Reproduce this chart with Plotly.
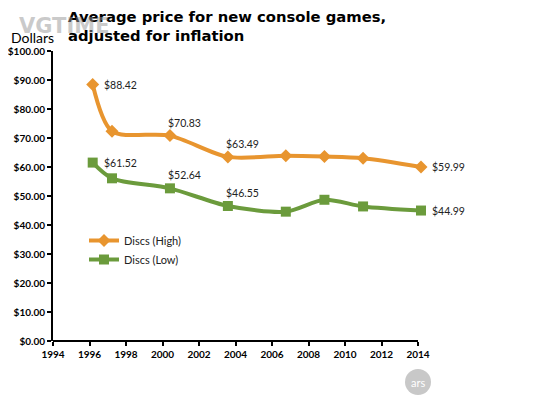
import plotly.graph_objects as go

years = [1996, 1997, 2000, 2003, 2006, 2008, 2010, 2013]
high = [88.42, 72.3, 70.83, 63.49, 63.9, 63.6, 63.0, 59.99]
low = [61.52, 56.1, 52.64, 46.55, 44.6, 48.7, 46.4, 44.99]

label_idx_high = [0, 2, 3, 7]
label_idx_low = [0, 2, 3, 7]
label_pos = ["right", "top", "top", "right"]

x_tick_labels = list(range(1994, 2015, 2))
y_ticks = list(range(0, 101, 10))

ORANGE = "#E8952F"
GREEN = "#6B9B3C"

OFF = 8  # page body margin in the browser
PAGE_W, PAGE_H = 550, 398
W, H = PAGE_W - OFF, PAGE_H - OFF
# plot area in page pixels
P_LEFT, P_RIGHT, P_TOP, P_BOTTOM = 53, 440, 51, 341
L, R, T, B = P_LEFT - OFF, W - (P_RIGHT - OFF), P_TOP - OFF, H - (P_BOTTOM - OFF)
plot_w = W - L - R
plot_h = H - T - B
AXIS_END_PX = 418  # page x where the drawn x axis ends (label 2014)


def px(xp):
    return (xp - P_LEFT) / plot_w


def py(yp):
    return (P_BOTTOM - yp) / plot_h


# data positions: 1996 -> px 92.7, 2013 -> px 421 (as in reference)
px_per_yr = (421 - 92.7) / 17
x_min = 1996 - (92.7 - P_LEFT) / px_per_yr
x_max = x_min + plot_w / px_per_yr
tick_step_px = (AXIS_END_PX - P_LEFT) / (len(x_tick_labels) - 1)
x_tickvals = [x_min + k * tick_step_px / px_per_yr for k in range(len(x_tick_labels))]

fig = go.Figure()
fig.add_trace(go.Scatter(
    x=years, y=high, name="Discs (High)",
    mode="lines+markers", line=dict(color=ORANGE, width=4, shape="spline", smoothing=0.8),
    marker=dict(symbol="diamond", size=10, color=ORANGE), cliponaxis=False,
))
fig.add_trace(go.Scatter(
    x=years, y=low, name="Discs (Low)",
    mode="lines+markers", line=dict(color=GREEN, width=4, shape="spline", smoothing=0.8),
    marker=dict(symbol="square", size=10, color=GREEN), cliponaxis=False,
))

anns = []
for series, idxs in ((high, label_idx_high), (low, label_idx_low)):
    for i, pos in zip(idxs, label_pos):
        if pos == "right":
            anns.append(dict(x=years[i], y=series[i], xref="x", yref="y",
                             text=f"${series[i]:.2f}", showarrow=False,
                             xanchor="left", yanchor="middle", xshift=9,
                             font=dict(size=10.5, color="#222")))
        else:
            anns.append(dict(x=years[i], y=series[i], xref="x", yref="y",
                             text=f"${series[i]:.2f}", showarrow=False,
                             xanchor="left", yanchor="middle", xshift=-4, yshift=13,
                             font=dict(size=10.5, color="#222")))

anns.append(dict(xref="paper", yref="paper", x=px(66), y=py(6),
                 xanchor="left", yanchor="top", align="left", showarrow=False,
                 text="<b>Average price for new console games,<br>adjusted for inflation</b>",
                 font=dict(family="DejaVu Sans", size=14.8, color="#000")))
anns.append(dict(xref="paper", yref="paper", x=px(9), y=py(27),
                 xanchor="left", yanchor="top", showarrow=False, text="Dollars",
                 font=dict(family="Lato", size=14, color="#000")))
anns.append(dict(xref="paper", yref="paper", x=px(17), y=py(12),
                 xanchor="left", yanchor="top", showarrow=False, text="<b>VGTIME</b>",
                 font=dict(family="DejaVu Sans", size=21, color="rgba(150,150,150,0.5)")))
anns.append(dict(xref="paper", yref="paper", x=px(418), y=py(382),
                 xanchor="center", yanchor="middle", showarrow=False, text="ars",
                 font=dict(family="Lato", size=11, color="white")))

fig.update_layout(
    width=W, height=H,
    margin=dict(l=L, r=R, t=T, b=B, autoexpand=False),
    paper_bgcolor="white", plot_bgcolor="white",
    font=dict(family="Lato", color="#000"),
    showlegend=True,
    legend=dict(x=px(84), y=py(226), xanchor="left", yanchor="top", itemwidth=30,
                bgcolor="rgba(0,0,0,0)", font=dict(size=11, color="#222")),
    xaxis=dict(range=[x_min, x_max], tickvals=x_tickvals, ticktext=[str(v) for v in x_tick_labels],
               showgrid=False, zeroline=False, showline=False,
               ticks="outside", ticklen=4, tickcolor="#000", tickwidth=2,
               tickfont=dict(family="Lato", size=10, color="#000", weight="bold")),
    yaxis=dict(range=[0, 100], tickvals=y_ticks, ticktext=[f"${v:.2f}" for v in y_ticks],
               showgrid=False, zeroline=False, showline=True, linecolor="#000", linewidth=2,
               ticks="outside", ticklen=4, tickcolor="#000", tickwidth=2,
               tickfont=dict(family="Lato", size=10, color="#000", weight="bold")),
    annotations=anns,
    shapes=[
        dict(type="line", xref="paper", yref="paper", x0=0, x1=px(AXIS_END_PX),
             y0=0, y1=0, line=dict(color="#000", width=2)),
        dict(type="circle", xref="paper", yref="paper",
             x0=px(405), x1=px(431), y0=py(395), y1=py(369),
             fillcolor="#C8C8C8", line=dict(width=0), layer="below"),
    ],
)

fig.write_html("out.html")
